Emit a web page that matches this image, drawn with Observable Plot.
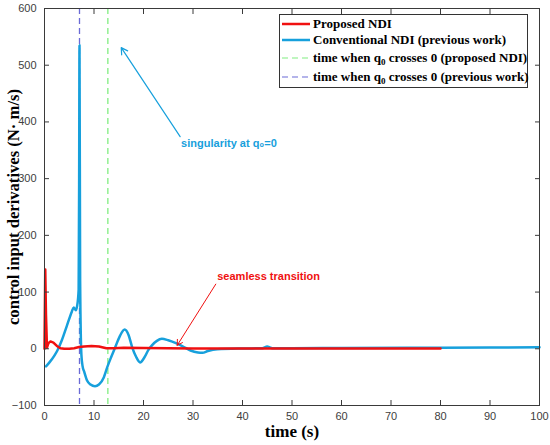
<!DOCTYPE html>
<html><head><meta charset="utf-8">
<script src="https://cdn.jsdelivr.net/npm/d3@7"></script>
<script src="https://cdn.jsdelivr.net/npm/@observablehq/plot@0.6"></script>
<style>
body{margin:0;background:#fff;}
#wrap{position:relative;width:550px;height:445px;}
#legend{position:absolute;left:279px;top:14px;width:249px;height:74px;border:1px solid #333;background:#fff;font-family:"Liberation Serif","Times New Roman",serif;font-weight:bold;font-size:13px;color:#000;box-sizing:border-box;}
.row{position:absolute;left:0;height:16px;display:flex;align-items:center;white-space:nowrap;}
.row svg{margin-left:2px;margin-right:3px;}
sub{font-size:9px;vertical-align:-3px;line-height:0;}
</style></head>
<body><div id="wrap"><div id="chart"></div>
<div id="legend">
<div class="row" style="top:1px"><svg width="28" height="6"><line x1="0" x2="28" y1="3" y2="3" stroke="#f01010" stroke-width="2.5"/></svg><span>Proposed NDI</span></div>
<div class="row" style="top:17px"><svg width="28" height="6"><line x1="0" x2="28" y1="3" y2="3" stroke="#17a0dc" stroke-width="2.5"/></svg><span>Conventional NDI (previous work)</span></div>
<div class="row" style="top:35px"><svg width="28" height="6"><line x1="0" x2="28" y1="3" y2="3" stroke="#80ee80" stroke-width="1.2" stroke-dasharray="6,4"/></svg><span>time when q<sub>0</sub> crosses 0 (proposed NDI)</span></div>
<div class="row" style="top:54px"><svg width="28" height="6"><line x1="0" x2="28" y1="3" y2="3" stroke="#6b6bd6" stroke-width="1.2" stroke-dasharray="6,4"/></svg><span>time when q<sub>0</sub> crosses 0 (previous work)</span></div>
</div></div>
<script>
const blueT = [0.3,1,2,2.6,3.5,4.5,5.5,5.9,6.3,6.6,6.9,7.0,7.07,7.2,7.45,7.7,8.0,8.6,9.3,10.2,11,12,12.7,13.5,14.3,15.2,16.2,17,17.7,18.5,19.3,20.2,21,21.7,22.7,23.7,25,26.8,28,29.5,31,31.9,33,34.9,40,44,45,45.4,46,50,60,80,100];
const blueV = [-31,-24,-12,-3,15,40,65,73,68,76,105,300,535,120,-10,-31,-40,-56,-63,-66,-63,-50,-32,-14,3,22,34,24,3,-14,-24,-15,-2,6,14,17.6,15,9,4,-3,-6.5,-7,-4,-1,0.5,1,4,3,1,1,1.5,2,2.5];
const redT = [0,0.15,0.3,0.5,0.8,1.2,1.8,2.5,3.2,4,5,6,7,8,9.5,11,12.5,14,16,20,25,30,40,45,50,60,80];
const redV = [0,140,60,2,10,13,11,5,1,0,0,1,3,4,5,4,1,1,2,1.5,1,0.5,0.5,0.5,0.5,0.5,0.5];
const crossPrev = [7.07];
const crossProp = [12.8];
const xTicks = [0,10,20,30,40,50,60,70,80,90,100];
const yTicks = [-100,0,100,200,300,400,500,600];
const xLabel = "time (s)";
const yLabel = "control input derivatives (N· m/s)";
const annSing = {text: "singularity at q₀=0", x: 27.6, y: 362, ax1: 27.4, ay1: 374, ax2: 15.5, ay2: 531};
const annSeam = {text: "seamless transition", x: 34.9, y: 127, ax1: 34.6, ay1: 114, ax2: 26.8, ay2: 6};

const blue = blueT.map((t,i)=>({t, v: blueV[i]}));
const red = redT.map((t,i)=>({t, v: redV[i]}));

const chart = Plot.plot({
  width: 550, height: 445,
  marginLeft: 44, marginRight: 11, marginTop: 8, marginBottom: 40,
  x: {domain: [0,100]},
  y: {domain: [-100,600]},
  style: {fontFamily: "'Liberation Sans', Arial, sans-serif", background: "#fff"},
  marks: [
    Plot.ruleX(crossProp, {stroke: "#80ee80", strokeWidth: 1.3, strokeDasharray: "6,4"}),
    Plot.ruleX(crossPrev, {stroke: "#6b6bd6", strokeWidth: 1.3, strokeDasharray: "6,4"}),
    Plot.line(blue, {x: "t", y: "v", stroke: "#17a0dc", strokeWidth: 2.5, curve: "monotone-x"}),
    Plot.line(red, {x: "t", y: "v", stroke: "#f01010", strokeWidth: 2.5, curve: "linear"}),
    Plot.arrow([annSing], {x1: "ax1", y1: "ay1", x2: "ax2", y2: "ay2", stroke: "#17a0dc", strokeWidth: 1.2, headLength: 9}),
    Plot.text([annSing], {x: "x", y: "y", text: "text", textAnchor: "start", fill: "#17a0dc", fontWeight: "bold", fontSize: 11}),
    Plot.arrow([annSeam], {x1: "ax1", y1: "ay1", x2: "ax2", y2: "ay2", stroke: "#f01010", strokeWidth: 1, headLength: 9}),
    Plot.text([annSeam], {x: "x", y: "y", text: "text", textAnchor: "start", fill: "#f01010", fontWeight: "bold", fontSize: 11}),
    Plot.frame({stroke: "#3a3a3a"}),
    Plot.axisX(xTicks, {anchor: "bottom", tickSize: 0, tickPadding: 7, fontSize: 11, fill: "#404040", label: null}),
    Plot.axisX(xTicks, {anchor: "bottom", tickSize: -5, tickFormat: () => "", stroke: "#3a3a3a", label: null}),
    Plot.axisX(xTicks, {anchor: "top", tickSize: -5, tickFormat: () => "", stroke: "#3a3a3a", label: null}),
    Plot.axisY(yTicks, {anchor: "left", tickSize: 0, tickPadding: 8, fontSize: 11, fill: "#404040", label: null}),
    Plot.axisY(yTicks, {anchor: "left", tickSize: -5, tickFormat: () => "", stroke: "#3a3a3a", label: null}),
    Plot.axisY(yTicks, {anchor: "right", tickSize: -5, tickFormat: () => "", stroke: "#3a3a3a", label: null}),
    Plot.text([xLabel], {frameAnchor: "bottom", dy: 26, textAnchor: "middle", lineAnchor: "middle", fontFamily: "'Liberation Serif', 'Times New Roman', serif", fontWeight: "bold", fontSize: 17, fill: "#000"}),
    Plot.text([yLabel], {frameAnchor: "left", dx: -31, rotate: -90, textAnchor: "middle", lineAnchor: "middle", className: "ylab", fontFamily: "'Liberation Serif', 'Times New Roman', serif", fontWeight: "bold", fontSize: 17, fill: "#000"})
  ]
});
d3.select(chart).selectAll("g.ylab text").attr("textLength", 236).attr("lengthAdjust", "spacingAndGlyphs");
document.getElementById("chart").appendChild(chart);
</script></body></html>
